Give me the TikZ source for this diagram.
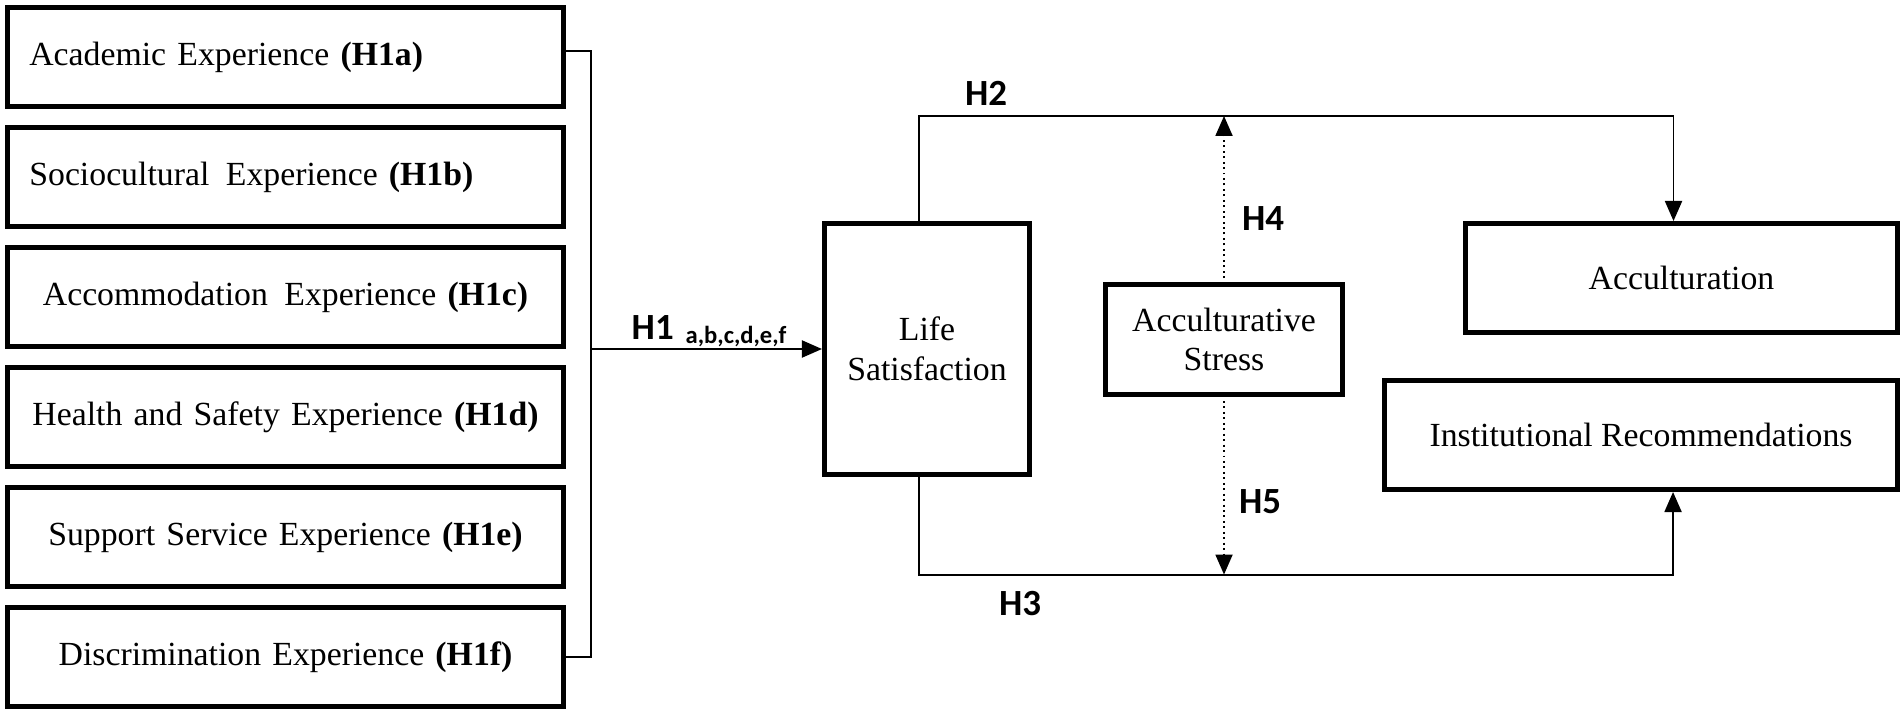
\documentclass[tikz,border=0pt]{standalone}
\usepackage{fontspec}
\setmainfont{Liberation Serif}
\newfontfamily\hypfont{Carlito}
\usepackage{tikz}
\usetikzlibrary{arrows.meta}
\newcommand{\widthfactor}{5.12cm}
\newcommand{\heightfactor}{0.99cm}
\newcommand{\heightoutcome}{1.09cm}
\newcommand{\distfactor}{120}
\tikzset{
    common/.style={draw, rectangle, line width=1.4pt, font=\fontsize{9.6}{11.3}\selectfont, align=center},
    factor/.style={common, minimum height=\heightfactor, inner xsep=0.22cm, text width=\widthfactor},
    factorleft/.style={factor, align=left},
    outcome/.style={common, minimum height=\heightoutcome},
    hyp/.style={font=\hypfont\bfseries\fontsize{10.5}{12}\selectfont, inner sep=0pt},
    link/.style={line width=0.55pt},
    arrow/.style={link, -{Triangle[length=0.2cm, width=0.17cm]}},
    mediator/.style={arrow, densely dotted}
}

\begin{document}
\begin{tikzpicture}[x=0.01cm, y=-0.01cm]
    \useasboundingbox (0,0) rectangle (1904,712);

    \path
        (285.5,57) node[factorleft] (F1) {Academic Experience \textbf{(H1a)}}
        ++(0,\distfactor) node[factorleft] (F2) {Sociocultural\hspace{1.5pt} Experience \textbf{(H1b)}}
        ++(0,\distfactor) node[factor] (F3) {Accommodation\hspace{1.5pt} Experience \textbf{(H1c)}}
        ++(0,\distfactor) node[factor] (F4) {Health and Safety Experience \textbf{(H1d)}}
        ++(0,\distfactor) node[factor] (F5) {Support Service Experience \textbf{(H1e)}}
        ++(0,\distfactor) node[factor] (F6) {Discrimination Experience \textbf{(H1f)}};

    \node[outcome, minimum width=2.05cm, minimum height=2.51cm] (LS) at (927,349) {Life\\Satisfaction};
    \node[outcome, minimum width=2.37cm, minimum height=1.10cm] (AS) at (1224,339.5) {Acculturative\\Stress};
    \node[outcome, minimum width=4.32cm] (AC) at (1681.5,278) {Acculturation};
    \node[outcome, minimum width=5.13cm] (IR) at (1641,435) {Institutional Recommendations};

    \coordinate (brace) at ([xshift=-2.31cm]LS.west);

    \draw[link]
      ([yshift=0.06cm]F1.east) -| (brace) |- (F6.east);
    \draw[arrow] (brace) -- (LS.west);

    \draw[arrow]
      ([xshift=-0.08cm]LS.north) -- ++(0,-105) coordinate (h2corner) -| ([xshift=-0.08cm]AC.north);
    \draw[arrow]
      ([xshift=-0.08cm]LS.south) -- ++(0,97.5) coordinate (h3corner) -| ([xshift=0.32cm]IR.south);

    \draw[mediator] ([yshift=0.04cm]AS.north) -- (AS.north |- h2corner);
    \draw[mediator] ([yshift=-0.04cm]AS.south) -- (AS.south |- h3corner);

    \node[hyp, anchor=base west] (H1) at (631,339) {H1\hspace{3.4pt}\raisebox{-1.4pt}{\fontsize{7}{8}\selectfont a,b,c,d,e,f}};
    \node[hyp] (H2) at (986,93.5) {H2};
    \node[hyp] (H3) at (1020,603.5) {H3};
    \node[hyp] (H4) at (1263,218.5) {H4};
    \node[hyp] (H5) at (1260,501.5) {H5};
\end{tikzpicture}
\end{document}
